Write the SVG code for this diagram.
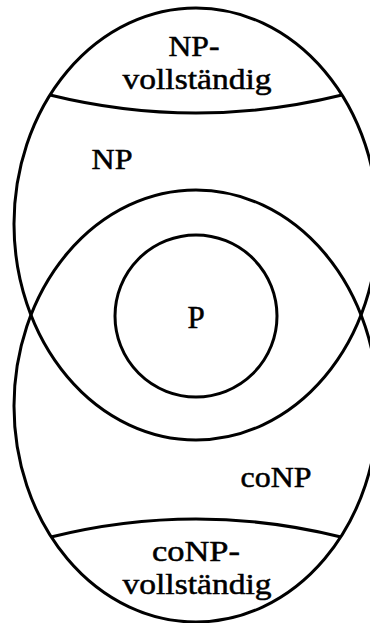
<svg xmlns="http://www.w3.org/2000/svg" width="370" height="623" viewBox="0 0 370 623">
<style>
.s{fill:none;stroke:#000;stroke-width:3}
text{font-family:"Liberation Serif","DejaVu Serif",serif;font-size:29px;fill:#000;stroke:#000;stroke-width:0.5;text-anchor:middle}
</style>
<rect width="370" height="623" fill="#fff"/>
<g id="NP">
<ellipse class="s" cx="196" cy="224" rx="182" ry="216"/>
<text x="112" y="169" textLength="41" lengthAdjust="spacingAndGlyphs">NP</text>
</g>
<g id="coNP">
<ellipse class="s" cx="196" cy="406" rx="182" ry="216"/>
<text x="276" y="487" textLength="71" lengthAdjust="spacingAndGlyphs">coNP</text>
</g>
<g id="NP-vollstaendig">
<path class="s" d="M50 95 Q196 131 342 95"/>
<text x="194" y="56" textLength="51" lengthAdjust="spacingAndGlyphs">NP-</text>
<text x="197" y="88.5" textLength="149" lengthAdjust="spacingAndGlyphs">vollständig</text>
</g>
<g id="coNP-vollstaendig">
<path class="s" d="M51 537 Q196 501 341 537"/>
<text x="196" y="561" textLength="88" lengthAdjust="spacingAndGlyphs">coNP-</text>
<text x="197" y="593.5" textLength="149" lengthAdjust="spacingAndGlyphs">vollständig</text>
</g>
<g id="P">
<circle class="s" cx="196" cy="316" r="81"/>
<text x="196" y="327.5" style="font-size:31px">P</text>
</g>
<g id="connectors"/>
</svg>
